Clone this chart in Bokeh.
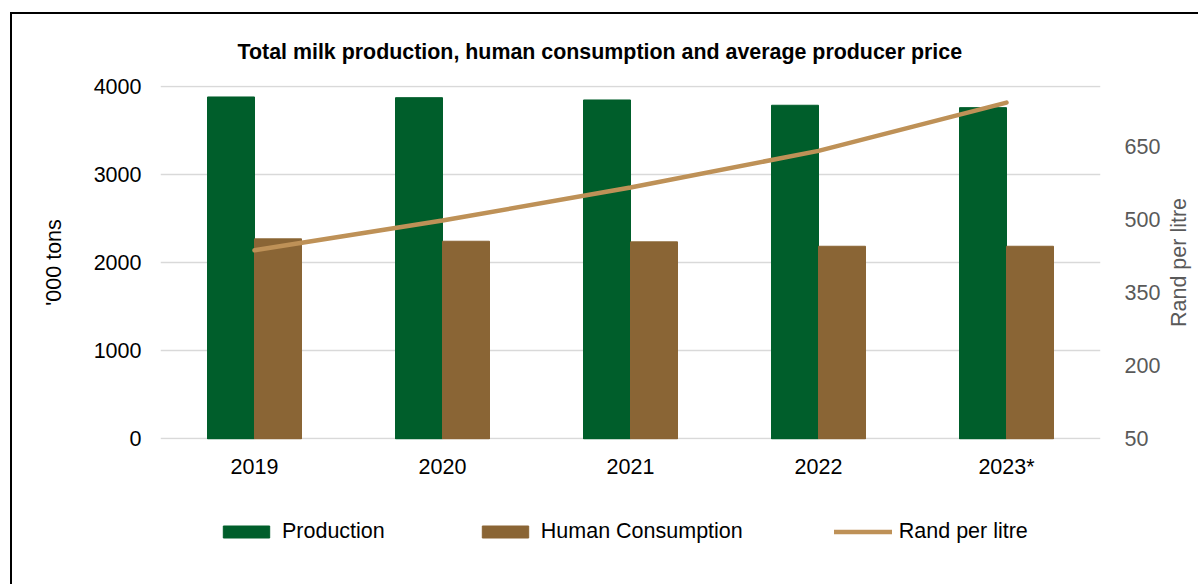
from bokeh.plotting import figure
from bokeh.layouts import column, row
from bokeh.models import (FactorRange, Range1d, LinearAxis, FixedTicker, Legend,
                          LegendItem, Title, ColumnDataSource)
from bokeh.transform import dodge
from bokeh.embed import file_html
from bokeh.resources import INLINE

years = ["2019", "2020", "2021", "2022", "2023*"]
production = [3876, 3868, 3842, 3782, 3755]
consumption = [2268, 2241, 2234, 2184, 2184]
rand_per_litre = [437, 498, 566, 641, 740]
left_ticks = [0, 1000, 2000, 3000, 4000]
right_ticks = [50, 200, 350, 500, 650]

GREEN = "#005E2B"
BROWN = "#8A6535"
TAN = "#BE9157"
FONT = "Liberation Sans"
FS = "21.5px"

src = ColumnDataSource(dict(year=years, production=production,
                            consumption=consumption, price=rand_per_litre))

# tiny padding so the 0 and 4000 grid lines are not clipped by the frame
p = figure(x_range=FactorRange(*years), y_range=Range1d(-6, 4006),
           width=1151, height=486, output_backend="svg", toolbar_location=None,
           min_border_left=148, min_border_right=60, min_border_top=71,
           min_border_bottom=61)
p.outline_line_color = None
p.extra_y_ranges = {"price": Range1d(48.9, 775.1)}

p.vbar(x=dodge("year", -0.125, range=p.x_range), top="production", width=0.25,
       source=src, fill_color=GREEN, line_color=GREEN)
p.vbar(x=dodge("year", 0.125, range=p.x_range), top="consumption", width=0.25,
       source=src, fill_color=BROWN, line_color=BROWN)
p.line(x="year", y="price", source=src, y_range_name="price",
       line_width=4.5, line_color=TAN, line_cap="round")

p.xgrid.grid_line_color = None
p.ygrid.grid_line_color = "#D9D9D9"
p.ygrid.grid_line_width = 1.5
p.ygrid.level = "underlay"

# left axis
ya = p.yaxis[0]
ya.ticker = FixedTicker(ticks=left_ticks)
ya.axis_label = "'000 tons"
ya.axis_line_color = None
ya.major_tick_line_color = None
ya.minor_tick_line_color = None
ya.major_label_standoff = 13
ya.axis_label_standoff = 25
ya.major_label_text_font = FONT
ya.major_label_text_font_size = FS
ya.major_label_text_color = "black"
ya.axis_label_text_font = FONT
ya.axis_label_text_font_size = FS
ya.axis_label_text_font_style = "normal"
ya.axis_label_text_color = "black"

# right axis (tick labels only; its title sits in the strip to the right)
ra = LinearAxis(y_range_name="price", ticker=FixedTicker(ticks=right_ticks))
ra.axis_line_color = None
ra.major_tick_line_color = None
ra.minor_tick_line_color = None
ra.major_label_standoff = 18
ra.major_label_text_font = FONT
ra.major_label_text_font_size = FS
ra.major_label_text_color = "#595959"
p.add_layout(ra, "right")

# x axis
xa = p.xaxis[0]
xa.axis_line_color = None
xa.major_tick_line_color = None
xa.minor_tick_line_color = None
xa.major_label_standoff = 9
xa.major_label_text_font = FONT
xa.major_label_text_font_size = FS
xa.major_label_text_color = "black"

p.add_layout(Title(text="Total milk production, human consumption and average producer price",
                   align="left", offset=77, standoff=43, text_font=FONT,
                   text_font_size="21.4px", text_font_style="bold", text_color="black"),
             "above")

# narrow strip holding the secondary axis title, reading bottom-to-top
rf = figure(width=35, height=486, output_backend="svg", toolbar_location=None,
            x_axis_location=None, x_range=Range1d(0, 1), y_range=Range1d(48.9, 775.1),
            min_border_left=0, min_border_right=0, min_border_top=71,
            min_border_bottom=61)
rf.outline_line_color = None
rf.grid.visible = False
ry = rf.yaxis[0]
ry.ticker = FixedTicker(ticks=[])
ry.axis_label = "Rand per litre"
ry.axis_label_standoff = 2
ry.axis_line_color = None
ry.major_tick_line_color = None
ry.minor_tick_line_color = None
ry.major_tick_out = 0
ry.major_label_standoff = 0
ry.axis_label_text_font = FONT
ry.axis_label_text_font_size = FS
ry.axis_label_text_font_style = "normal"
ry.axis_label_text_color = "#595959"

# legend strip below the chart
lg = figure(width=1186, height=84, output_backend="svg", toolbar_location=None,
            x_range=FactorRange(*years), y_range=Range1d(5000, 6000),
            min_border_left=148, min_border_right=95,
            min_border_top=0, min_border_bottom=0)
lg.axis.visible = False
lg.grid.visible = False
lg.outline_line_color = None
k1 = lg.vbar(x="year", top="production", width=0.25, source=src,
             fill_color=GREEN, line_color=GREEN)
k2 = lg.vbar(x="year", top="consumption", width=0.25, source=src,
             fill_color=BROWN, line_color=BROWN)
k3 = lg.line(x="year", y="price", source=src, line_width=4.5, line_color=TAN,
             line_cap="round")

legend = Legend(items=[LegendItem(label="Production", renderers=[k1]),
                       LegendItem(label="Human Consumption", renderers=[k2]),
                       LegendItem(label="Rand per litre", renderers=[k3])],
                orientation="horizontal", location=(57, 40),
                glyph_width=58, glyph_height=15, label_standoff=7, spacing=91,
                padding=0, margin=0, border_line_color=None,
                background_fill_alpha=0, label_text_font=FONT,
                label_text_font_size=FS, label_text_color="black")
lg.add_layout(legend)

layout = column(row(p, rf, spacing=0), lg, spacing=0)
layout.margin = (12, 0, 0, 10)
layout.styles = {"border-left": "2px solid black", "border-top": "2px solid black"}

open("out.html", "w").write(file_html(layout, INLINE))
